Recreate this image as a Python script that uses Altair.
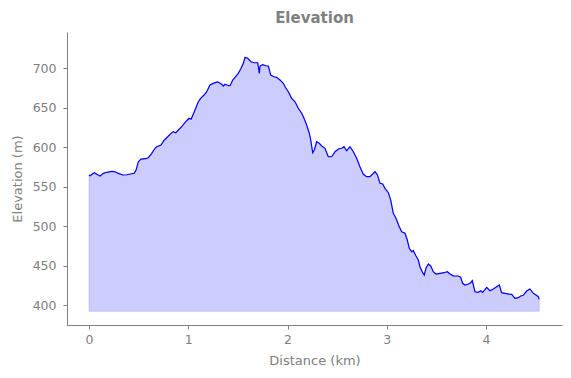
import altair as alt
import pandas as pd

distance_km = [0.000, 0.010, 0.033, 0.053, 0.088, 0.111, 0.144, 0.178, 0.229, 0.262,
               0.295, 0.340, 0.380, 0.430, 0.456, 0.474, 0.497, 0.524, 0.571, 0.597,
               0.632, 0.665, 0.682, 0.725, 0.759, 0.793, 0.826, 0.849, 0.874, 0.900,
               0.934, 0.960, 0.984, 1.008, 1.028, 1.061, 1.068, 1.101, 1.125, 1.159,
               1.186, 1.219, 1.252, 1.293, 1.313, 1.337, 1.353, 1.370, 1.404, 1.421,
               1.448, 1.471, 1.504, 1.532, 1.555, 1.572, 1.599, 1.632, 1.662, 1.700,
               1.716, 1.723, 1.750, 1.783, 1.807, 1.831, 1.864, 1.891, 1.924, 1.958,
               1.975, 2.008, 2.042, 2.076, 2.109, 2.143, 2.166, 2.193, 2.220, 2.234,
               2.254, 2.270, 2.294, 2.320, 2.345, 2.378, 2.411, 2.445, 2.479, 2.512,
               2.546, 2.569, 2.596, 2.630, 2.663, 2.697, 2.730, 2.764, 2.798, 2.831,
               2.858, 2.882, 2.905, 2.932, 2.959, 2.982, 3.016, 3.040, 3.066, 3.093,
               3.126, 3.151, 3.184, 3.207, 3.227, 3.251, 3.267, 3.295, 3.318, 3.335,
               3.362, 3.378, 3.395, 3.419, 3.443, 3.469, 3.496, 3.537, 3.577, 3.610,
               3.637, 3.671, 3.721, 3.745, 3.765, 3.788, 3.822, 3.846, 3.862, 3.889,
               3.922, 3.947, 3.967, 4.007, 4.040, 4.074, 4.108, 4.134, 4.158, 4.191,
               4.235, 4.259, 4.292, 4.325, 4.350, 4.376, 4.410, 4.443, 4.477, 4.504,
               4.527, 4.537]

elevation_m = [564.6, 563.7, 565.8, 567.5, 564.9, 563.3, 566.7, 568.0, 569.2, 568.7,
               566.7, 564.6, 564.9, 566.2, 566.7, 570.9, 581.4, 584.8, 585.2, 586.5,
               592.0, 598.4, 600.4, 602.5, 608.9, 613.0, 617.3, 619.4, 618.1, 621.5,
               625.7, 630.0, 633.3, 636.3, 635.1, 644.7, 646.8, 657.3, 661.6, 665.8,
               670.0, 678.5, 680.6, 682.3, 681.4, 679.4, 677.2, 679.4, 677.6, 677.6,
               684.8, 688.2, 693.3, 699.6, 705.9, 713.5, 712.3, 708.0, 706.7, 706.7,
               693.3, 702.5, 704.2, 702.9, 702.5, 691.1, 689.0, 688.2, 684.8, 680.6,
               676.3, 670.0, 661.6, 657.3, 649.0, 642.7, 636.3, 627.8, 617.3, 608.9,
               592.8, 596.2, 606.7, 604.7, 601.3, 598.4, 587.7, 587.7, 594.1, 597.5,
               598.4, 600.4, 595.3, 600.4, 594.1, 585.7, 575.1, 565.4, 562.4, 562.4,
               565.8, 568.7, 565.2, 554.0, 553.2, 547.7, 542.2, 532.9, 516.1, 509.8,
               499.1, 492.8, 490.8, 482.3, 471.8, 467.5, 468.8, 462.0, 457.0, 448.5,
               440.9, 438.0, 446.5, 451.9, 449.4, 442.2, 439.2, 440.1, 440.9, 442.2,
               439.2, 437.0, 436.7, 435.1, 427.5, 425.3, 426.6, 428.2, 430.8, 416.8,
               416.1, 418.1, 416.1, 422.4, 418.1, 420.3, 423.2, 425.3, 415.6, 414.8,
               413.9, 413.5, 408.5, 409.3, 411.4, 412.3, 417.7, 420.3, 414.8, 412.7,
               410.5, 407.3]

fill_base = 392.0
x_ticks = [0, 1, 2, 3, 4]
y_ticks = [400, 450, 500, 550, 600, 650, 700]

df = pd.DataFrame({"d": distance_km, "e": elevation_m})
df["base"] = fill_base

grey = "#808080"
font = "DejaVu Sans"

xscale = alt.Scale(domain=[-0.222, 4.766], nice=False, zero=False)
yscale = alt.Scale(domain=[374.7, 745.6], nice=False, zero=False)

xaxis = alt.Axis(values=x_ticks, title="Distance (km)", grid=False, format="d",
                 domainColor=grey, tickColor=grey, labelColor=grey, titleColor=grey,
                 tickSize=4, labelPadding=4, labelFontSize=12.5, titleFontSize=13,
                 titleFontWeight="normal", titlePadding=9, labelFont=font, titleFont=font)
yaxis = alt.Axis(values=y_ticks, title="Elevation (m)", grid=False,
                 domainColor=grey, tickColor=grey, labelColor=grey, titleColor=grey,
                 tickSize=4, labelPadding=7, labelFontSize=12.5, titleFontSize=13,
                 titleFontWeight="normal", titlePadding=8, labelFont=font, titleFont=font)

base = alt.Chart(df)

area = base.mark_area(color="#ccccff", stroke="#0000ff", strokeOpacity=0.15,
                      strokeWidth=1, fillOpacity=1).encode(
    x=alt.X("d:Q", scale=xscale, axis=xaxis),
    y=alt.Y("e:Q", scale=yscale, axis=yaxis),
    y2="base:Q",
)

line = base.mark_line(color="#0000ff", strokeWidth=1.2).encode(
    x=alt.X("d:Q", scale=xscale),
    y=alt.Y("e:Q", scale=yscale),
)

chart = (area + line).properties(
    width=495, height=293,
    title=alt.TitleParams("Elevation", fontSize=15, fontWeight="bold", color=grey,
                          font=font, anchor="middle", offset=6),
    autosize=alt.AutoSizeParams(type="none"),
    padding={"left": 67, "top": 32, "right": 9, "bottom": 53},
).configure_view(stroke=None)

chart.save("out.html", embed_options={"renderer": "svg", "actions": False})
